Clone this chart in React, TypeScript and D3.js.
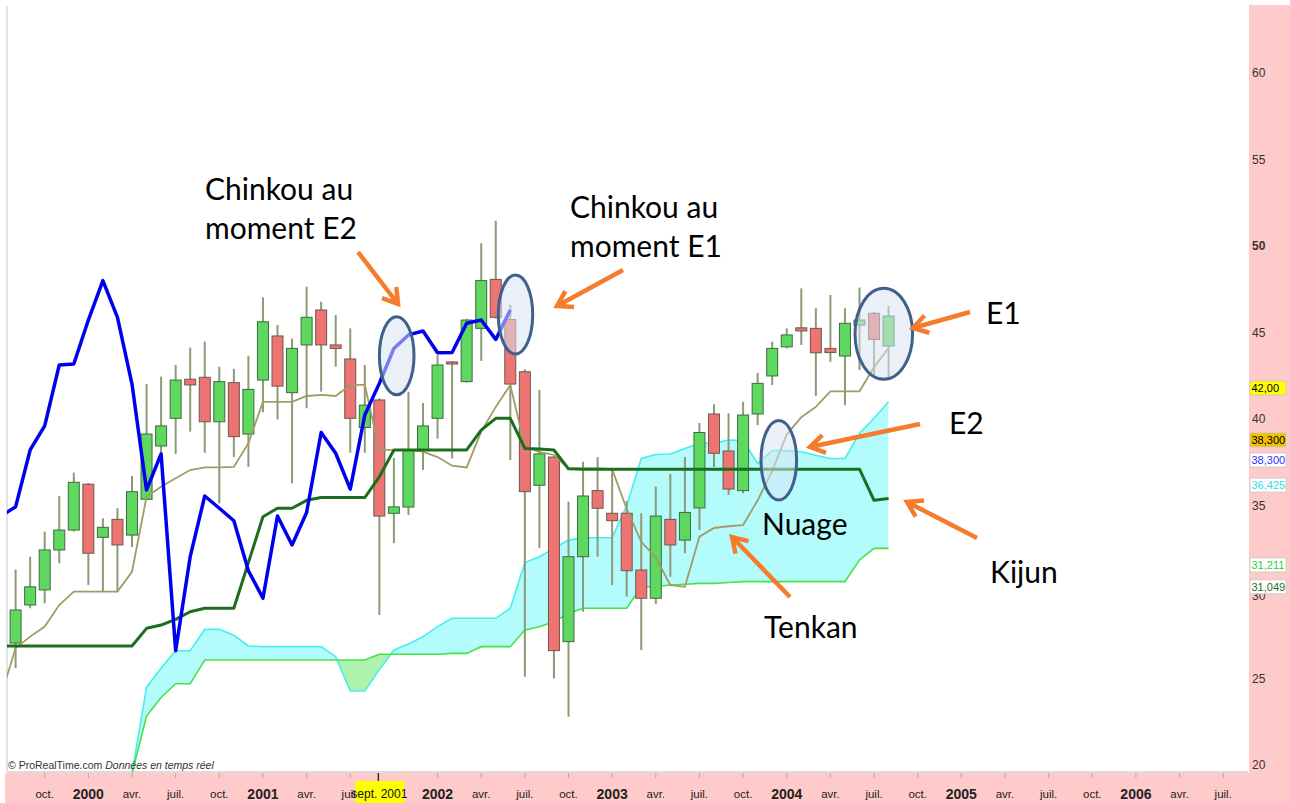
import React from 'react';
import * as d3 from 'd3';

const W = 1290;
const H = 803;

// ---- Data (monthly candles, index 0 = Aug 1999 ... 60 = Aug 2004) ----
const opens = [27.05, 29.25, 30.12, 32.43, 33.58, 36.23, 33.16, 34.2, 33.29, 35.36, 38.44, 40.04, 42.3, 42.41, 39.84, 42.1, 39.13, 42.25, 44.8, 41.52, 44.28, 46.3, 44.28, 43.47, 39.51, 41.1, 34.55, 34.91, 38.21, 40.04, 43.3, 42.16, 45.24, 48.07, 45.75, 42.73, 36.17, 37.8, 27.13, 32.04, 35.86, 34.55, 34.55, 31.27, 29.64, 34.2, 33.0, 34.86, 40.29, 38.15, 35.86, 40.29, 42.49, 44.17, 45.27, 45.24, 44.08, 43.64, 45.43, 46.11, 44.22];
const highs = [31.3, 32.04, 33.49, 35.55, 36.9, 36.3, 34.26, 34.84, 36.7, 42.02, 42.45, 43.12, 44.12, 44.47, 43.02, 42.9, 43.65, 47.03, 45.43, 44.65, 47.65, 46.78, 46.0, 45.24, 43.12, 41.2, 37.75, 41.58, 40.93, 43.7, 43.35, 45.8, 50.16, 51.46, 46.59, 42.87, 41.68, 37.85, 35.22, 37.53, 37.8, 37.05, 35.27, 34.55, 36.09, 36.82, 37.8, 39.77, 40.85, 40.33, 40.99, 42.66, 44.47, 45.24, 47.55, 46.4, 47.17, 46.4, 47.6, 46.2, 46.53];
const lows = [25.6, 29.06, 29.35, 31.66, 33.5, 30.4, 30.02, 30.02, 32.6, 35.3, 37.92, 37.98, 39.27, 38.05, 35.12, 37.8, 37.23, 40.39, 39.97, 36.28, 40.62, 41.58, 43.02, 38.05, 38.05, 28.67, 32.82, 34.45, 37.05, 38.87, 37.72, 42.1, 43.36, 45.8, 37.63, 25.1, 32.53, 25.0, 22.79, 28.86, 32.04, 30.4, 29.73, 26.65, 29.31, 30.88, 32.24, 33.58, 37.23, 35.61, 35.7, 39.65, 41.97, 44.08, 44.28, 41.33, 43.3, 40.8, 42.83, 42.43, 42.35];
const closes = [28.96, 30.3, 32.43, 33.58, 36.34, 32.24, 33.74, 32.72, 35.8, 39.13, 39.6, 42.25, 41.97, 39.84, 42.16, 38.98, 41.71, 45.62, 41.9, 44.08, 45.88, 44.28, 44.08, 40.04, 40.8, 34.39, 34.92, 38.21, 39.6, 43.12, 43.18, 45.72, 48.0, 45.88, 42.02, 35.8, 37.98, 26.61, 32.04, 35.55, 34.84, 34.12, 31.23, 29.64, 34.39, 32.72, 34.6, 39.22, 38.02, 35.95, 40.23, 42.06, 44.08, 44.86, 45.09, 43.83, 43.84, 45.53, 45.72, 44.6, 45.95];

// Tenkan and Kijun, index -1 .. 60
const tenkan = [24.0, 26.76, 27.42, 28.0, 29.25, 30.02, 30.02, 30.02, 30.02, 31.17, 35.51, 36.09, 36.57, 37.05, 37.2, 37.2, 37.23, 38.6, 40.99, 40.99, 40.99, 41.33, 41.39, 41.33, 41.97, 41.97, 38.21, 38.21, 38.21, 38.11, 37.8, 37.3, 37.2, 39.27, 40.7, 41.97, 38.4, 38.1, 37.92, 37.15, 37.15, 37.15, 37.1, 34.8, 32.9, 32.0, 30.4, 30.3, 33.2, 33.7, 33.8, 33.87, 35.3, 37.0, 39.1, 40.1, 40.7, 41.6, 41.6, 41.6, 43.0, 44.1];
const kijun = [26.88, 26.88, 26.88, 26.88, 26.88, 26.88, 26.88, 26.88, 26.88, 26.88, 27.9, 28.09, 28.42, 28.86, 29.06, 29.06, 29.06, 31.7, 34.35, 34.84, 34.84, 35.3, 35.46, 35.46, 35.46, 35.46, 36.66, 38.21, 38.21, 38.21, 38.21, 38.21, 38.21, 39.36, 40.04, 40.04, 38.3, 38.27, 38.21, 37.12, 37.1, 37.1, 37.1, 37.1, 37.1, 37.1, 37.1, 37.1, 37.1, 37.1, 37.1, 37.1, 37.1, 37.1, 37.1, 37.1, 37.1, 37.1, 37.1, 37.1, 35.3, 35.4];
// Chinkou, index -1 .. 34
const chinkou = [34.39, 34.92, 38.21, 39.6, 43.12, 43.18, 45.72, 48.0, 45.88, 42.02, 35.9, 37.98, 26.61, 32.04, 35.55, 34.84, 34.12, 31.23, 29.64, 34.39, 32.72, 34.6, 39.22, 38.02, 35.95, 40.23, 42.06, 44.08, 44.86, 45.09, 43.83, 43.84, 45.53, 45.72, 44.6, 46.3];
// Senkou A / B, index 6 .. 60
const ssa = [19.5, 19.5, 19.5, 24.5, 25.6, 26.6, 26.6, 27.84, 27.84, 27.5, 26.88, 26.84, 26.84, 26.84, 26.84, 26.84, 26.26, 24.28, 24.28, 25.5, 26.65, 27.0, 27.42, 28.0, 28.48, 28.48, 28.48, 28.48, 29.06, 31.7, 32.04, 32.52, 33.0, 33.14, 33.14, 33.14, 35.0, 37.72, 37.95, 37.98, 38.3, 38.6, 38.6, 38.79, 38.75, 37.43, 38.17, 38.17, 38.11, 37.9, 37.72, 37.72, 39.17, 40.04, 41.0];
const ssb = [19.5, 19.5, 19.5, 22.83, 23.9, 24.7, 24.7, 26.07, 26.07, 26.07, 26.07, 26.07, 26.07, 26.07, 26.07, 26.07, 26.07, 26.07, 26.07, 26.4, 26.4, 26.4, 26.4, 26.4, 26.45, 26.45, 26.84, 26.84, 26.84, 27.8, 27.99, 28.28, 28.76, 29.06, 29.06, 29.06, 29.06, 30.3, 30.3, 30.4, 30.45, 30.5, 30.5, 30.55, 30.6, 30.6, 30.6, 30.6, 30.6, 30.6, 30.6, 30.6, 31.85, 32.52, 32.52];

const yTicks = [20, 25, 30, 35, 40, 45, 50, 55, 60];
const xLabelIdx = [2, 5, 8, 11, 14, 17, 20, 23, 29, 32, 35, 38, 41, 44, 47, 50, 53, 56, 59, 62, 65, 68, 71, 74, 77, 80, 83];
const xLabelText = ['oct.', '2000', 'avr.', 'juil.', 'oct.', '2001', 'avr.', 'juil.', '2002', 'avr.', 'juil.', 'oct.', '2003', 'avr.', 'juil.', 'oct.', '2004', 'avr.', 'juil.', 'oct.', '2005', 'avr.', 'juil.', 'oct.', '2006', 'avr.', 'juil.'];
const cursorIdx = 25;
const cursorText = 'sept. 2001';

const priceTags = [
  { text: '42,00', v: 41.79, bg: '#ffff00', fg: '#000000' },
  { text: '38,300', v: 38.79, bg: '#f2c200', fg: '#000000' },
  { text: '38,300', v: 37.63, bg: '#ffffff', fg: '#3030ff' },
  { text: '36,425', v: 36.18, bg: '#ffffff', fg: '#30e0e0' },
  { text: '31,211', v: 31.56, bg: '#ffffff', fg: '#30d030' },
  { text: '31,049', v: 30.3, bg: '#ffffff', fg: '#1f6a1f' },
];

const notes = [
  { t: 'Chinkou au', x: 205, y: 200 },
  { t: 'moment E2', x: 205, y: 239 },
  { t: 'Chinkou au', x: 570, y: 218 },
  { t: 'moment E1', x: 570, y: 257 },
  { t: 'E1', x: 986, y: 324 },
  { t: 'E2', x: 949, y: 434 },
  { t: 'Nuage', x: 762, y: 535 },
  { t: 'Kijun', x: 990, y: 583 },
  { t: 'Tenkan', x: 764, y: 638 },
];
const arrows = [
  [358, 252, 398, 304],
  [623, 270, 557, 306],
  [970, 312, 913, 328],
  [920, 424, 810, 447],
  [977, 538, 907, 502],
  [790, 597, 732, 537],
];
const ellipses = [
  [396.7, 355.8, 17.3, 39],
  [515.5, 314.5, 17.2, 39.5],
  [883.8, 333.8, 28.8, 45.5],
  [778.8, 460.3, 17.8, 39.7],
];

const PL = 7, PR = 1248, PT = 6, PB = 772;

export default function App() {
  const x = d3.scaleLinear().domain([0, 60]).range([15.6, 888.6]);
  const y = d3.scaleLinear().domain([20, 60]).range([765, 73]);

  const tk = tenkan.map((v, k) => [x(k - 1), y(v)] as [number, number]);
  const kj = kijun.map((v, k) => [x(k - 1), y(v)] as [number, number]);
  const ck = chinkou.map((v, k) => [x(k - 1), y(v)] as [number, number]);
  const cloud = ssa.map((v, k) => ({ i: k + 6, a: v, b: ssb[k] }));

  const line = d3.line();
  const between = d3.area<any>().x((d) => x(d.i)).y0((d) => y(d.b)).y1((d) => y(d.a));
  const aboveB = d3.area<any>().x((d) => x(d.i)).y0(PT - 50).y1((d) => y(d.b));
  const aboveA = d3.area<any>().x((d) => x(d.i)).y0(PT - 50).y1((d) => y(d.a));
  const lineA = d3.line<any>().x((d) => x(d.i)).y((d) => y(d.a));
  const lineB = d3.line<any>().x((d) => x(d.i)).y((d) => y(d.b));

  const cw = 11;
  const axisFont = "'Liberation Sans Narrow', 'Arial Narrow', 'Liberation Sans', Arial, sans-serif";
  const noteFont = "Lato, 'Open Sans', sans-serif";

  const arrowPath = (x1: number, y1: number, x2: number, y2: number) => {
    const ang = Math.atan2(y2 - y1, x2 - x1);
    const L = 17, a = (32 * Math.PI) / 180;
    const w1 = [x2 - L * Math.cos(ang - a), y2 - L * Math.sin(ang - a)];
    const w2 = [x2 - L * Math.cos(ang + a), y2 - L * Math.sin(ang + a)];
    return `M${x1},${y1}L${x2},${y2}M${w1[0]},${w1[1]}L${x2},${y2}L${w2[0]},${w2[1]}`;
  };

  return (
    <svg width={W} height={H} style={{ position: 'absolute', left: 0, top: 0, background: '#fff' }}>
      <defs>
        <clipPath id="plot"><rect x={PL} y={PT} width={PR - PL} height={PB - PT} /></clipPath>
        <clipPath id="cA"><path d={aboveB(cloud) || ''} /></clipPath>
        <clipPath id="cB"><path d={aboveA(cloud) || ''} /></clipPath>
      </defs>
      <rect x={0} y={0} width={W} height={H} fill="#ffffff" />
      {/* axis bands */}
      <rect x={1249} y={5} width={W - 1249} height={H - 5} fill="#ffcaca" />
      <rect x={5} y={773} width={1249 - 5} height={H - 773} fill="#ffcaca" />
      <line x1={PL} y1={PT} x2={PL} y2={PB} stroke="#d8d8d8" strokeWidth={1.5} />
      <line x1={PL} y1={PB} x2={PR} y2={PB} stroke="#d0d0d0" strokeWidth={1.5} />

      <g clipPath="url(#plot)">
        <g clipPath="url(#cA)"><path d={between(cloud) || ''} fill="#b4fcfc" /></g>
        <g clipPath="url(#cB)"><path d={between(cloud) || ''} fill="#aef2ae" /></g>
        <path d={lineA(cloud) || ''} fill="none" stroke="#45eeee" strokeWidth={1.6} />
        <path d={lineB(cloud) || ''} fill="none" stroke="#45e445" strokeWidth={1.6} />

        {opens.map((o, i) => {
          const c = closes[i];
          const up = c >= o;
          const top = y(Math.max(o, c));
          const bot = y(Math.min(o, c));
          return (
            <g key={i}>
              <line x1={x(i)} x2={x(i)} y1={y(highs[i])} y2={y(lows[i])} stroke="#8c9a78" strokeWidth={2} />
              <rect x={x(i) - cw / 2} y={top} width={cw} height={Math.max(2, bot - top)}
                fill={up ? '#5fd85f' : '#ee7474'} stroke={up ? '#3f6a3f' : '#6a5a48'} strokeWidth={1} />
            </g>
          );
        })}

        <path d={line(tk) || ''} fill="none" stroke="#a39a66" strokeWidth={1.8} />
        <path d={line(kj) || ''} fill="none" stroke="#1c6e1c" strokeWidth={3} strokeLinejoin="round" />
        <path d={line(ck) || ''} fill="none" stroke="#0000f0" strokeWidth={3.5} strokeLinejoin="round" />
      </g>

      {/* right axis */}
      {yTicks.map((v) => (
        <text key={v} x={1252} y={y(v) + (v === 30 ? 4 : 0)} dy="0.35em" fontSize={12} fontFamily="'Liberation Sans', Arial, sans-serif"
          fontWeight={v === 50 ? 'bold' : 'normal'} fill="#333">{v}</text>
      ))}
      {priceTags.map((p, k) => (
        <g key={k}>
          <rect x={1250} y={y(p.v) - 7} width={36} height={14} fill={p.bg} stroke="#c8c8c8" strokeWidth={0.8} />
          <text x={1251.5} y={y(p.v)} dy="0.35em" fontSize={11} fontFamily="'Liberation Sans Narrow', 'Liberation Sans', Arial, sans-serif" fill={p.fg}>{p.text}</text>
        </g>
      ))}

      {/* bottom axis */}
      {xLabelIdx.map((idx, k) => {
        const bold = /^\d{4}$/.test(xLabelText[k]);
        return (
          <g key={k}>
            <line x1={x(idx)} x2={x(idx)} y1={773} y2={778} stroke="#b8a8a8" strokeWidth={1} />
            <text x={x(idx)} y={bold ? 799 : 798} textAnchor="middle" fontSize={bold ? 14 : 11.5}
              fontWeight={bold ? 'bold' : 'normal'} fontFamily={axisFont} fill="#222">{xLabelText[k]}</text>
          </g>
        );
      })}
      <rect x={x(cursorIdx) - 24} y={781} width={49} height={22} fill="#ffff00" />
      <line x1={x(cursorIdx) - 1} x2={x(cursorIdx) - 1} y1={773} y2={781} stroke="#333" strokeWidth={1.5} />
      <text x={x(cursorIdx)} y={798} textAnchor="middle" fontSize={12} fontFamily={axisFont} fill="#111">{cursorText}</text>

      <text x={8} y={769} fontSize={10.5} fontFamily="'Liberation Sans', Arial, sans-serif" fill="#333">
        © ProRealTime.com <tspan fontStyle="italic">Données en temps réel</tspan>
      </text>

      {/* annotations */}
      {ellipses.map((e, k) => (
        <ellipse key={k} cx={e[0]} cy={e[1]} rx={e[2]} ry={e[3]} fill="#d8e2f2" fillOpacity={0.55} stroke="#40608c" strokeWidth={3} />
      ))}
      {arrows.map((a, k) => (
        <path key={k} d={arrowPath(a[0], a[1], a[2], a[3])} fill="none" stroke="#f47c2c" strokeWidth={4.5} strokeLinecap="butt" strokeLinejoin="miter" />
      ))}
      {notes.map((n, k) => (
        <text key={k} x={n.x} y={n.y} fontSize={30} fontFamily={noteFont} fill="#000">{n.t}</text>
      ))}
    </svg>
  );
}
